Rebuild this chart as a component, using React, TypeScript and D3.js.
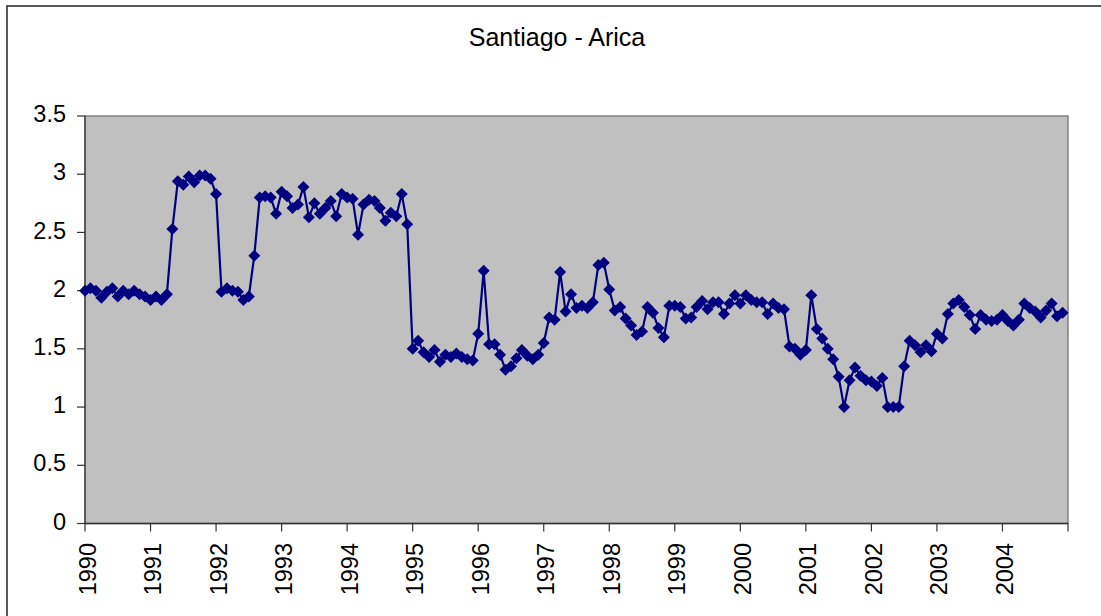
import * as d3 from 'd3';

const years = ['1990', '1991', '1992', '1993', '1994', '1995', '1996', '1997', '1998', '1999', '2000', '2001', '2002', '2003', '2004'];
const yTicks = [0, 0.5, 1, 1.5, 2, 2.5, 3, 3.5];

// monthly values, one array per year
const v1990 = [2.00, 2.02, 2.00, 1.94, 1.99, 2.02, 1.95, 2.00, 1.97, 2.00, 1.97, 1.95];
const v1991 = [1.92, 1.95, 1.92, 1.97, 2.53, 2.94, 2.91, 2.98, 2.93, 2.99, 2.99, 2.96];
const v1992 = [2.83, 1.99, 2.02, 2.00, 1.99, 1.92, 1.95, 2.30, 2.80, 2.81, 2.80, 2.66];
const v1993 = [2.85, 2.81, 2.71, 2.74, 2.89, 2.63, 2.75, 2.66, 2.71, 2.77, 2.64, 2.83];
const v1994 = [2.80, 2.79, 2.48, 2.74, 2.78, 2.77, 2.71, 2.60, 2.67, 2.64, 2.83, 2.57];
const v1995 = [1.50, 1.57, 1.47, 1.43, 1.49, 1.39, 1.45, 1.43, 1.46, 1.43, 1.41, 1.40];
const v1996 = [1.63, 2.17, 1.54, 1.54, 1.45, 1.32, 1.35, 1.42, 1.49, 1.44, 1.41, 1.45];
const v1997 = [1.55, 1.77, 1.75, 2.16, 1.82, 1.97, 1.85, 1.87, 1.85, 1.90, 2.22, 2.24];
const v1998 = [2.01, 1.83, 1.86, 1.76, 1.70, 1.62, 1.65, 1.86, 1.81, 1.68, 1.60, 1.87];
const v1999 = [1.87, 1.86, 1.76, 1.77, 1.86, 1.91, 1.84, 1.90, 1.90, 1.80, 1.89, 1.96];
const v2000 = [1.89, 1.96, 1.92, 1.90, 1.90, 1.80, 1.89, 1.85, 1.84, 1.52, 1.50, 1.45];
const v2001 = [1.49, 1.96, 1.67, 1.59, 1.50, 1.41, 1.26, 1.00, 1.23, 1.34, 1.27, 1.23];
const v2002 = [1.22, 1.18, 1.25, 1.00, 1.00, 1.00, 1.35, 1.57, 1.53, 1.47, 1.53, 1.48];
const v2003 = [1.63, 1.59, 1.80, 1.89, 1.92, 1.86, 1.79, 1.67, 1.79, 1.75, 1.74, 1.75];
const v2004 = [1.79, 1.74, 1.70, 1.75, 1.89, 1.85, 1.82, 1.77, 1.83, 1.89, 1.78, 1.81];

const values = [
  ...v1990, ...v1991, ...v1992, ...v1993, ...v1994, ...v1995, ...v1996, ...v1997,
  ...v1998, ...v1999, ...v2000, ...v2001, ...v2002, ...v2003, ...v2004,
];

const W = 1101;
const H = 616;
const left = 85;
const right = 1068;
const top = 116;
const bottom = 523.5;
const font = 'Liberation Sans, Arial, sans-serif';

export default function App() {
  const x = d3.scaleLinear().domain([0, years.length * 12]).range([left, right]);
  const y = d3.scaleLinear().domain([0, 3.5]).range([bottom, top]);

  const line = d3.line<number>()
    .x((_, i) => x(i))
    .y(d => y(d));

  const r = 6;
  const diamond = `M0,${-r}L${r},0L0,${r}L${-r},0Z`;
  const xTicks = d3.range(0, years.length * 12 + 1, 12);

  return (
    <svg width={W} height={H} style={{ position: 'absolute', left: 0, top: 0, background: '#fff' }}>
      <rect x={7} y={6} width={1200} height={800} fill="#fff" stroke="#222" strokeWidth={1.5} />
      <text x={557} y={46} textAnchor="middle" fontFamily={font} fontSize={25} fill="#000">
        Santiago - Arica
      </text>

      <rect x={left} y={top} width={right - left} height={bottom - top} fill="#C0C0C0" stroke="#808080" strokeWidth={1.5} />

      {/* y axis */}
      <line x1={left} x2={left} y1={top} y2={bottom} stroke="#333" strokeWidth={1.2} />
      {yTicks.map(t => (
        <g key={t}>
          <line x1={left - 8} x2={left} y1={y(t)} y2={y(t)} stroke="#333" strokeWidth={1.2} />
          <text x={66} y={y(t)} dy="0.26em" textAnchor="end" fontFamily={font} fontSize={23.5} fill="#000">
            {t}
          </text>
        </g>
      ))}

      {/* x axis */}
      <line x1={left} x2={right} y1={bottom} y2={bottom} stroke="#333" strokeWidth={1.5} />
      {xTicks.map(t => (
        <line key={t} x1={x(t)} x2={x(t)} y1={bottom} y2={bottom + 8} stroke="#333" strokeWidth={1.2} />
      ))}
      {years.map((yr, k) => (
        <text
          key={yr}
          transform={`translate(${x(k * 12) + 10.5},543) rotate(-90)`}
          textAnchor="end"
          fontFamily={font}
          fontSize={23.5}
          fill="#000"
        >
          {yr}
        </text>
      ))}

      <path d={line(values) ?? ''} fill="none" stroke="#000080" strokeWidth={2.2} />
      {values.map((v, i) => (
        <path key={i} d={diamond} transform={`translate(${x(i)},${y(v)})`} fill="#000080" />
      ))}
    </svg>
  );
}
